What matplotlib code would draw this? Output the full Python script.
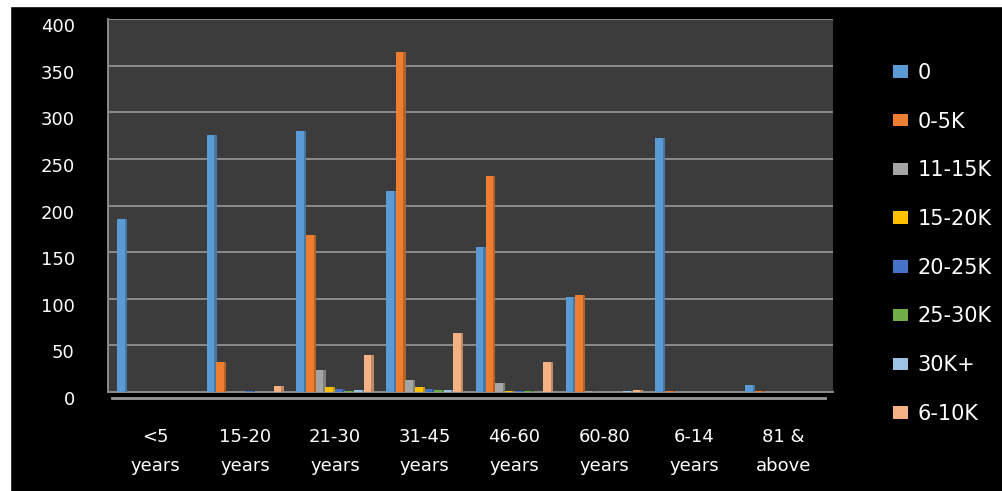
import numpy as np
import matplotlib
matplotlib.use('Agg')
import matplotlib.pyplot as plt
from matplotlib.patches import Patch, Rectangle
from matplotlib.lines import Line2D
import matplotlib.transforms as mtransforms
import matplotlib.colors as mcolors


# chart data
categories = ['<5\nyears', '15-20\nyears', '21-30\nyears', '31-45\nyears',
              '46-60\nyears', '60-80\nyears', '6-14\nyears', '81 &\nabove']
series_names = ['0', '0-5K', '11-15K', '15-20K', '20-25K', '25-30K', '30K+', '6-10K']
v_0 = [185, 276, 280, 216, 155, 102, 272, 8]
v_0_5k = [0, 32, 168, 365, 232, 104, 1, 1]
v_11_15k = [0, 0, 24, 13, 10, 1, 0, 0]
v_15_20k = [0, 0, 5, 5, 1, 0, 0, 0]
v_20_25k = [0, 1, 3, 3, 1, 0, 0, 0]
v_25_30k = [0, 0, 1, 2, 1, 0, 0, 0]
v_30k = [0, 0, 2, 2, 0, 1, 0, 0]
v_6_10k = [0, 6, 40, 63, 32, 2, 0, 0]
yticks = [0, 50, 100, 150, 200, 250, 300, 350, 400]

series = [v_0, v_0_5k, v_11_15k, v_15_20k, v_20_25k, v_25_30k, v_30k, v_6_10k]
colors = ['#5B9BD5', '#ED7D31', '#A5A5A5', '#FFC000',
          '#4472C4', '#70AD47', '#9DC3E6', '#F4B183']


def shade(c, f):
    r, g, b = mcolors.to_rgb(c)
    return (r * f, g * f, b * f)


fig = plt.figure(figsize=(10.02, 4.91), dpi=100, facecolor='black')

# white strips on top and left edge of the original picture
fig.patches.append(Rectangle((0, 1 - 6 / 491), 1, 6 / 491, transform=fig.transFigure,
                             color='white', zorder=0))
fig.patches.append(Rectangle((0, 0), 10 / 1002, 1, transform=fig.transFigure,
                             color='white', zorder=0))

ax = fig.add_axes([108 / 1002, 1 - 392 / 491, (833 - 108) / 1002, (392 - 19) / 491])
ax.set_facecolor('#3c3c3c')
ax.set_axisbelow(True)

x = np.arange(len(categories))
step = 0.107
front = 0.084
side = 0.026
for j, (vals, c) in enumerate(zip(series, colors)):
    xs = x + (j - 3.5) * step
    ax.bar(xs - side / 2, vals, width=front, color=c, zorder=3)
    ax.bar(xs + front / 2 - side / 2, vals, width=side, align='edge',
           color=shade(c, 0.78), zorder=3)

ax.set_xlim(-0.53, 7.55)
ax.set_ylim(0, 400)
ax.set_yticks(yticks)
ax.set_xticks(x)
ax.set_xticklabels(categories, linespacing=1.75)
ax.yaxis.grid(True, color='#8c8c8c', lw=1.4)
ax.tick_params(axis='both', length=0, colors='white', labelsize=13)
ax.tick_params(axis='y', pad=24)
ax.tick_params(axis='x', pad=26)

# labels sit slightly lower, like the front of the 3d wall
off = mtransforms.ScaledTranslation(0, -6 / 100, fig.dpi_scale_trans)
for lab in ax.get_yticklabels():
    lab.set_transform(lab.get_transform() + off)

for s in ['top', 'right']:
    ax.spines[s].set_visible(False)
ax.spines['left'].set_color('#8c8c8c')
ax.spines['left'].set_linewidth(1.4)
ax.spines['bottom'].set_color('#8c8c8c')
ax.spines['bottom'].set_linewidth(1.4)

# floor edge
fig.add_artist(Line2D([112 / 1002, 825 / 1002], [1 - 398 / 491, 1 - 398 / 491],
                      color='#9a9a9a', lw=2, transform=fig.transFigure))

handles = [Patch(facecolor=c, edgecolor='none') for c in colors]
fig.legend(handles, series_names, loc='upper left',
           bbox_to_anchor=(874 / 1002, 1 - 44 / 491), frameon=False,
           fontsize=15, labelcolor='white', handlelength=0.75, handleheight=0.55,
           handletextpad=0.45, labelspacing=1.38)

fig.savefig('out.png', dpi=100, facecolor='black')
